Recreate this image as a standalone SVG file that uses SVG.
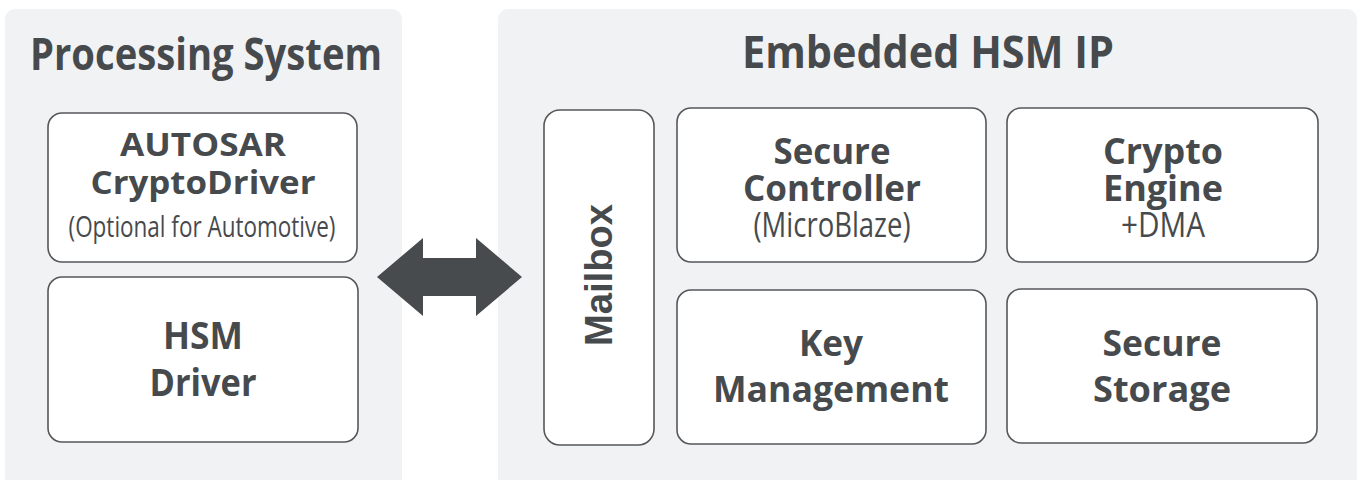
<svg xmlns="http://www.w3.org/2000/svg" width="1358" height="480" viewBox="0 0 1358 480">
<style>
.panel{fill:#f1f2f4}
.box{fill:#ffffff;stroke:#565759;stroke-width:1.6}
.t{font-family:"Open Sans","Noto Sans",sans-serif;fill:#474a4d;text-anchor:middle}
.b{font-weight:700}
.r{font-weight:400}
.mb{font-family:"Liberation Sans",Arial,sans-serif;font-weight:700;fill:#474a4d;text-anchor:middle}
.arrow{fill:#474b4d}
</style>
<rect width="1358" height="480" fill="#ffffff"/>
<g id="processing-system">
<rect class="panel" x="5" y="9" width="397" height="490" rx="10"/>
<text class="t b" x="206" y="69.5" font-size="44" textLength="352" lengthAdjust="spacingAndGlyphs">Processing System</text>
</g>
<g id="autosar-cryptodriver">
<rect class="box" x="48" y="113" width="309" height="149" rx="14"/>
<text class="t b" x="203" y="156" font-size="33" textLength="166" lengthAdjust="spacingAndGlyphs">AUTOSAR</text>
<text class="t b" x="203" y="194" font-size="33" textLength="225" lengthAdjust="spacingAndGlyphs">CryptoDriver</text>
<text class="t r" x="202" y="237" font-size="29" textLength="267" lengthAdjust="spacingAndGlyphs">(Optional for Automotive)</text>
</g>
<g id="hsm-driver">
<rect class="box" x="48" y="277" width="310" height="165" rx="14"/>
<text class="t b" x="203" y="349" font-size="38" textLength="80" lengthAdjust="spacingAndGlyphs">HSM</text>
<text class="t b" x="203" y="396" font-size="38" textLength="107" lengthAdjust="spacingAndGlyphs">Driver</text>
</g>
<g id="embedded-hsm-ip">
<rect class="panel" x="498" y="9" width="859" height="490" rx="10"/>
<text class="t b" x="928" y="68" font-size="44" textLength="372" lengthAdjust="spacingAndGlyphs">Embedded HSM IP</text>
</g>
<g id="mailbox">
<rect class="box" x="544" y="110" width="110" height="335" rx="16"/>
<text class="mb" transform="translate(612,275) rotate(-90)" x="0" y="0" font-size="38" textLength="142" lengthAdjust="spacingAndGlyphs">Mailbox</text>
</g>
<g id="secure-controller">
<rect class="box" x="677" y="108" width="309" height="154" rx="14"/>
<text class="t b" x="832" y="164" font-size="36" textLength="117" lengthAdjust="spacingAndGlyphs">Secure</text>
<text class="t b" x="832" y="201" font-size="36" textLength="178" lengthAdjust="spacingAndGlyphs">Controller</text>
<text class="t r" x="832" y="237" font-size="34" textLength="157" lengthAdjust="spacingAndGlyphs">(MicroBlaze)</text>
</g>
<g id="crypto-engine">
<rect class="box" x="1007" y="108" width="311" height="154" rx="14"/>
<text class="t b" x="1163" y="164" font-size="36" textLength="120" lengthAdjust="spacingAndGlyphs">Crypto</text>
<text class="t b" x="1163" y="201" font-size="36" textLength="120" lengthAdjust="spacingAndGlyphs">Engine</text>
<text class="t r" x="1163" y="237" font-size="34" textLength="84" lengthAdjust="spacingAndGlyphs">+DMA</text>
</g>
<g id="key-management">
<rect class="box" x="677" y="290" width="309" height="154" rx="14"/>
<text class="t b" x="831" y="356" font-size="36" textLength="64" lengthAdjust="spacingAndGlyphs">Key</text>
<text class="t b" x="831" y="402" font-size="36" textLength="236" lengthAdjust="spacingAndGlyphs">Management</text>
</g>
<g id="secure-storage">
<rect class="box" x="1007" y="289" width="310" height="154" rx="14"/>
<text class="t b" x="1162" y="356" font-size="36" textLength="119" lengthAdjust="spacingAndGlyphs">Secure</text>
<text class="t b" x="1162" y="402" font-size="36" textLength="138" lengthAdjust="spacingAndGlyphs">Storage</text>
</g>
<g id="connectors">
<polygon class="arrow" points="377,277 423,238 423,258 476,258 476,238 522,277 476,316 476,296 423,296 423,316"/>
</g>
</svg>
